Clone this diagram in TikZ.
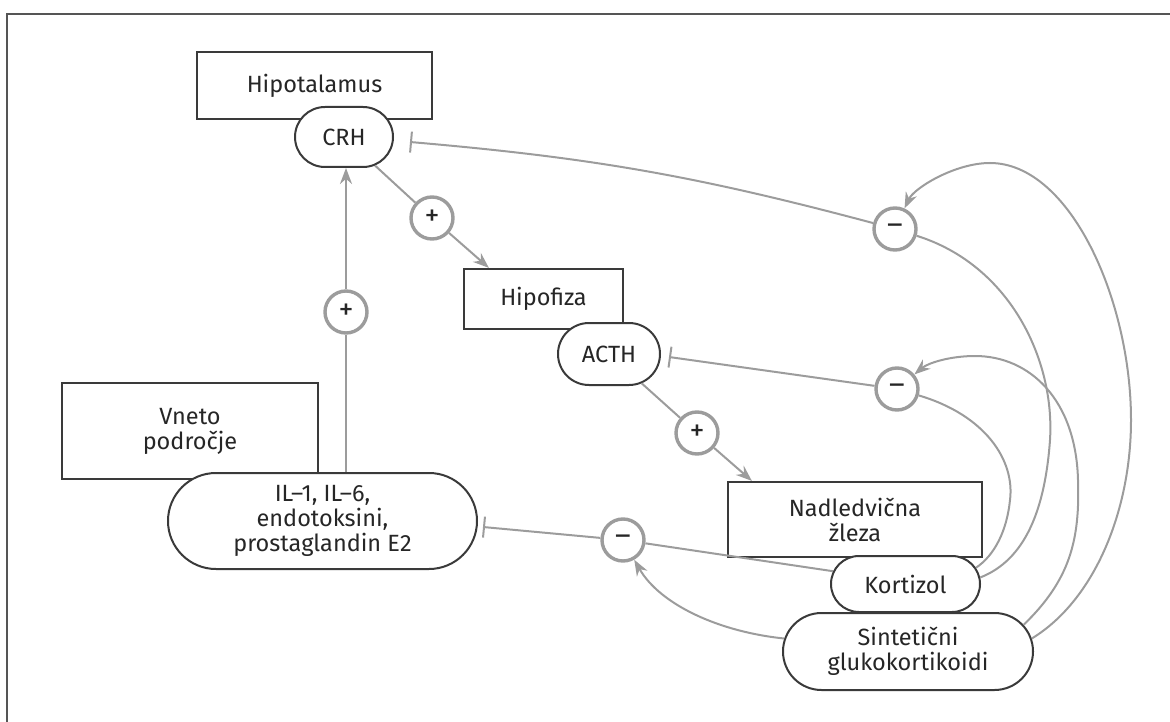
\documentclass[tikz,border=0pt]{standalone}
\usepackage{fontspec}
\setmainfont{Fira Sans}
\usetikzlibrary{arrows.meta,shapes.misc,calc}
\definecolor{lg}{HTML}{9C9C9C}
\definecolor{dk}{HTML}{3A3A3A}
\definecolor{fr}{HTML}{555555}
\begin{document}
\begin{tikzpicture}[x=1pt,y=1pt,
  txt/.style={font=\fontsize{23.5}{25}\selectfont,align=center,text=black!85},
  box/.style={txt,draw=dk,line width=2.2pt,fill=white,inner sep=0pt},
  pill/.style={txt,rounded rectangle,draw=dk,line width=2pt,fill=white,inner sep=0pt},
  sign/.style={circle,draw=lg,line width=3.4pt,fill=white,minimum size=42pt,inner sep=0pt,font=\fontsize{30}{30}\selectfont,text=black!85},
  con/.style={draw=lg,line width=2pt},
  act/.style={con,-{Stealth[length=16pt,width=12pt]}},
  inh/.style={con,-{Bar[width=21pt,line width=2pt]}}
]
\useasboundingbox (0,0) rectangle (1170,-722);
% frame
\draw[fr,line width=2pt] (1172,-14) -- (7,-14) -- (7,-724);

% boxes and pills
\node[box,minimum width=235pt,minimum height=67pt] (hyp) at (314.5,-85.5) {Hipotalamus};
\node[pill,minimum width=98pt,minimum height=60pt] (crh) at (344,-137) {CRH};
\node[box,minimum width=159pt,minimum height=60pt] (hipo) at (543.5,-299) {Hipofiza};
\node[pill,minimum width=102pt,minimum height=62pt] (acth) at (609,-354) {ACTH};
\node[box,minimum width=256pt,minimum height=96pt] (vneto) at (190,-431) {Vneto\\področje};
\node[pill,minimum width=309pt,minimum height=96pt] (il) at (322.5,-521) {IL–1, IL–6,\\endotoksini,\\prostaglandin E2};
\node[box,minimum width=254pt,minimum height=75pt] (nad) at (855,-519.5) {Nadledvična\\žleza};
\node[pill,minimum width=149pt,minimum height=56pt] (kort) at (905.5,-584) {Kortizol};
\node[pill,minimum width=250pt,minimum height=77pt] (sint) at (908,-651.5) {Sintetični\\glukokortikoidi};

% sign circles
\node[sign] (p1) at (432,-218) {+};
\node[sign] (p2) at (346,-312) {+};
\node[sign] (p3) at (697,-433) {+};
\node[sign] (m1) at (895,-229) {–};
\node[sign] (m2) at (897,-389) {–};
\node[sign] (m3) at (623,-540) {–};

% stimulatory paths
\draw[con] (crh) -- (p1);
\draw[act] (p1) -- ($(hipo.north west)+(26,0)$);
\draw[con] (acth) -- (p3);
\draw[act] (p3) -- ($(nad.north west)+(25,0)$);
\draw[con] (il.north -| p2) -- (p2);
\draw[act] (p2) -- (crh.south -| p2);

% inhibitory paths
\draw[inh] (m1) to[bend right=5] ($(crh.east)+(16,-5)$);
\draw[inh] (m2) -- ($(acth.east)+(8,-3)$);
\draw[inh] (m3) -- ($(il.east)+(5,-6)$);

% feedback from kortizol
\draw[con] (m3) -- (kort.170);
\draw[con] (m1) .. controls (1010,-265) and (1055,-360) .. (1050,-440) .. controls (1045,-510) and (1025,-560) .. (kort.5);
\draw[con] (m2) .. controls (985,-415) and (1015,-460) .. (1010,-500) .. controls (1007,-530) and (995,-555) .. (kort.13);

% feedback from synthetic glucocorticoids
\draw[act] (sint.6) .. controls (1095,-600) and (1131,-510) .. (1131,-420) .. controls (1131,-300) and (1070,-163) .. (990,-163) .. controls (955,-163) and (914,-188) .. (m1);
\draw[act] (sint.13) .. controls (1070,-580) and (1080,-540) .. (1078,-480) .. controls (1076,-400) and (1030,-356) .. (975,-356) .. controls (950,-356) and (928,-363) .. (m2);
\draw[act] (sint.174) .. controls (720,-632) and (660,-605) .. (m3);
\end{tikzpicture}
\end{document}
